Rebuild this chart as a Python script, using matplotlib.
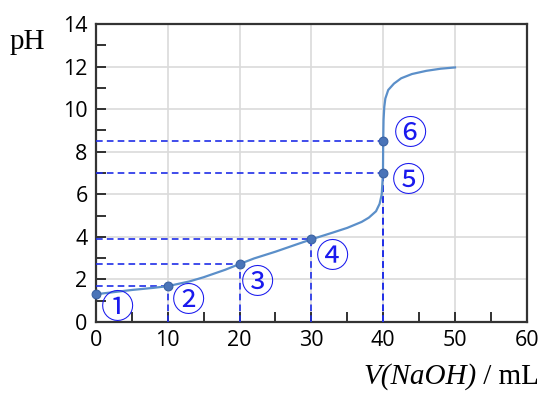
import numpy as np
import matplotlib
matplotlib.use("Agg")
import matplotlib.pyplot as plt

# titration curve
vol = [0, 2, 5, 8, 10, 13, 15, 18, 20, 22, 25, 28, 30, 33, 35, 37, 38, 39,
       39.5, 39.8, 39.97, 40.0, 40.05, 40.15, 40.3, 40.7, 41.5, 42.5, 44, 46, 48, 50]
ph = [1.3, 1.38, 1.5, 1.6, 1.68, 1.9, 2.1, 2.45, 2.72, 2.98, 3.3, 3.65, 3.88, 4.2,
      4.42, 4.7, 4.9, 5.2, 5.55, 6.0, 7.0, 8.5, 9.5, 10.1, 10.5, 10.9, 11.2,
      11.45, 11.65, 11.8, 11.9, 11.96]

# marked points 1..6
pt_vol = [0, 10, 20, 30, 40, 40]
pt_ph = [1.3, 1.68, 2.72, 3.88, 7.0, 8.5]
pt_labels = ["①", "②", "③", "④", "⑤", "⑥"]
lab_x = [3.0, 12.9, 22.5, 33.0, 43.6, 43.8]
lab_y = [0.62, 0.98, 1.82, 3.05, 6.6, 8.8]

fig = plt.figure(figsize=(5.42, 3.94), dpi=100)
ax = fig.add_axes([0.177, 0.183, 0.795, 0.756])

dash_col = '#1f2ee8'
for x, y in zip(pt_vol[1:], pt_ph[1:]):
    ax.plot([0, x], [y, y], ls=(0, (4, 2.5)), color=dash_col, lw=1.2, zorder=3)
    ax.plot([x, x], [0, y], ls=(0, (4, 2.5)), color=dash_col, lw=1.2, zorder=3)

ax.plot(vol, ph, color='#5b8fc9', lw=1.6, zorder=4)
ax.scatter(pt_vol, pt_ph, s=40, color='#4a74b8', edgecolor='#3a62a3', lw=0.8,
           zorder=5, clip_on=False)

for lx, ly, t in zip(lab_x, lab_y, pt_labels):
    ax.text(lx, ly, t, color='#1a1aee', fontsize=24, ha='center', va='center',
            family=['Noto Sans CJK JP', 'DejaVu Sans'], zorder=6)

ax.set_xlim(0, 60)
ax.set_ylim(0, 14)
ax.set_xticks(np.arange(0, 61, 10))
ax.set_xticks(np.arange(0, 61, 5), minor=True)
ax.set_yticks(np.arange(0, 15, 2))
ax.set_yticks(np.arange(0, 15, 1), minor=True)
ax.tick_params(which='both', direction='in', length=7, width=1.3, color='#222222')
ax.tick_params(which='major', labelsize=15.5, pad=6)
for lbl in ax.get_xticklabels() + ax.get_yticklabels():
    lbl.set_family('Open Sans')
ax.grid(True, which='major', color='#dadada', lw=1.2)
ax.set_axisbelow(True)
for s in ax.spines.values():
    s.set_linewidth(1.6)
    s.set_color('#333333')

fig.text(0.018, 0.875, 'pH', fontsize=21, family='Liberation Serif')

# x label: italic part then plain " / mL", right aligned
unit = fig.text(0.995, 0.025, ' / mL', fontsize=21, family='Liberation Serif',
                ha='right')
r = fig.canvas.get_renderer()
bb = unit.get_window_extent(r).transformed(fig.transFigure.inverted())
fig.text(bb.x0, 0.025, 'V(NaOH)', fontsize=21, family='Liberation Serif',
         style='italic', ha='right')

fig.savefig('out.png', dpi=100)
